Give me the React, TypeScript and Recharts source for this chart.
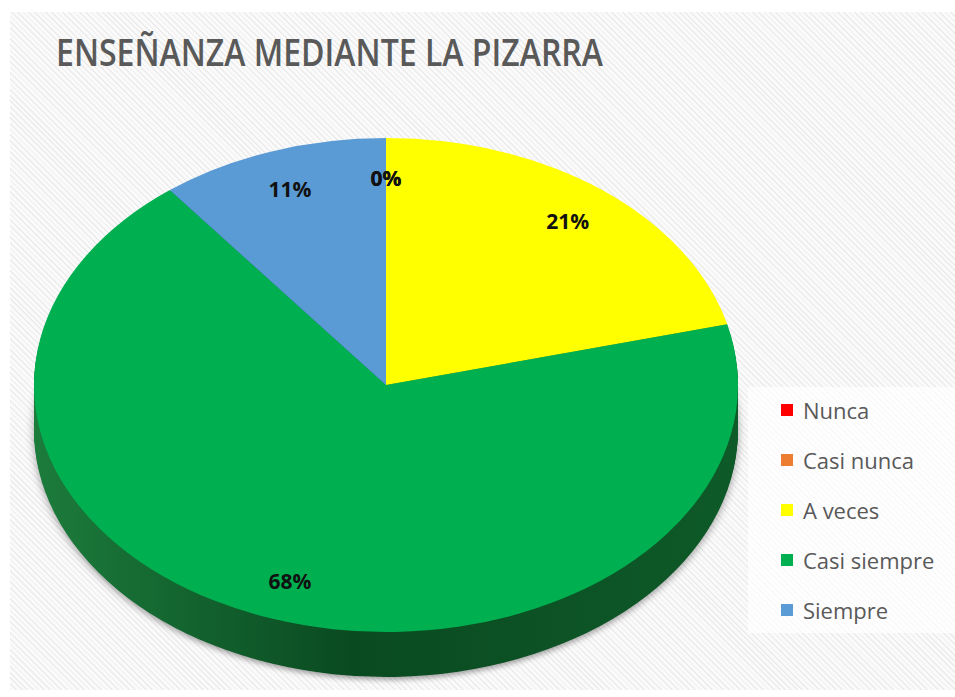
import React from 'react';
import { PieChart, Pie, Cell } from 'recharts';

const chartTitle = 'ENSEÑANZA MEDIANTE LA PIZARRA';
const categories = ['Nunca', 'Casi nunca', 'A veces', 'Casi siempre', 'Siempre'];
const responses = [0, 0, 4, 13, 2];
const topColors = ['#ff0000', '#ed7d31', '#ffff00', '#00b050', '#5b9bd5'];
const sideColors = ['#a00000', '#9c4b16', '#a9a900', 'url(#greenSide)', '#2f5f8c'];

const data = categories.map((name, i) => ({ name, value: responses[i] }));

// geometry of the tilted pie (screen px)
const CX = 386;
const CY = 385;
const RX = 352;
const RY = 247;
const TILT = RY / RX;
const DEPTH = 45;
const STEP = 1.5;
const sideOffsets: number[] = [];
for (let d = DEPTH; d > 0; d -= STEP) sideOffsets.push(d);

const FONT = '"Open Sans", "Noto Sans", sans-serif';

// labels are not inside the squashed paths, so project them by hand
const renderLabel = (props: any) => {
  const { cx, cy, midAngle, outerRadius, percent } = props;
  const rad = Math.PI / 180;
  const r = outerRadius * 0.84;
  const x = cx + r * Math.cos(-midAngle * rad);
  const y = cy + r * Math.sin(-midAngle * rad) * TILT;
  return (
    <text
      x={x}
      y={y}
      textAnchor="middle"
      dominantBaseline="central"
      fontFamily={FONT}
      fontWeight={700}
      fontSize={21}
      fill="#111"
    >
      {`${Math.round(percent * 100)}%`}
    </text>
  );
};

export default function App() {
  return (
    <div style={{ position: 'absolute', left: 0, top: 0, width: 955, height: 697, background: '#fff', overflow: 'hidden' }}>
      <style>{`
        path.pie3d, .pie3d path { transform-origin: ${CX}px ${CY}px; transform: scale(1, ${TILT}); }
        path.pie3d-base, .pie3d-base path { filter: drop-shadow(0px 4px 4px rgba(0,0,0,0.35)); }
      `}</style>
      <svg width={0} height={0} style={{ position: 'absolute' }}>
        <defs>
          <linearGradient id="greenSide" x1="0" y1="0" x2="1" y2="0">
            <stop offset="0%" stopColor="#1c7c3c" />
            <stop offset="45%" stopColor="#0a4a21" />
            <stop offset="100%" stopColor="#0e5a28" />
          </linearGradient>
        </defs>
      </svg>
      <div
        style={{
          position: 'absolute',
          left: 10,
          top: 12,
          width: 945,
          height: 678,
          background: 'repeating-linear-gradient(45deg, #ececec 0px, #ececec 1.2px, #fafafa 1.2px, #fafafa 4px)',
        }}
      />
      <div style={{ position: 'absolute', left: 0, top: 0 }}>
        <PieChart width={955} height={697} margin={{ top: 0, right: 0, bottom: 0, left: 0 }}>
          {sideOffsets.map((d, idx) => (
            <Pie
              key={`side-${d}`}
              data={data}
              dataKey="value"
              nameKey="name"
              cx={CX}
              cy={CY + d / TILT}
              outerRadius={RX}
              startAngle={90}
              endAngle={-270}
              stroke="none"
              label={false}
              labelLine={false}
              isAnimationActive={false}
              className={idx === 0 ? 'pie3d pie3d-base' : 'pie3d'}
            >
              {data.map((entry, i) => (
                <Cell key={entry.name} fill={sideColors[i]} />
              ))}
            </Pie>
          ))}
          <Pie
            data={data}
            dataKey="value"
            nameKey="name"
            cx={CX}
            cy={CY}
            outerRadius={RX}
            startAngle={90}
            endAngle={-270}
            stroke="none"
            label={renderLabel}
            labelLine={false}
            isAnimationActive={false}
            className="pie3d"
          >
            {data.map((entry, i) => (
              <Cell key={entry.name} fill={topColors[i]} />
            ))}
          </Pie>
        </PieChart>
      </div>
      <svg width={955} height={100} style={{ position: 'absolute', left: 0, top: 0 }}>
        <text
          x={56}
          y={66}
          fontFamily={FONT}
          fontWeight={600}
          fontSize={38}
          fill="#595959"
          textLength={547}
          lengthAdjust="spacingAndGlyphs"
        >
          {chartTitle}
        </text>
      </svg>
      <div
        style={{
          position: 'absolute',
          left: 748,
          top: 387,
          width: 207,
          height: 246,
          background: 'rgba(255,255,255,0.7)',
        }}
      >
        {categories.map((name, i) => (
          <div
            key={name}
            style={{
              position: 'absolute',
              left: 33,
              top: i * 50 - 2,
              height: 50,
              display: 'flex',
              alignItems: 'center',
              fontFamily: FONT,
              fontSize: 22,
              color: '#595959',
              whiteSpace: 'nowrap',
            }}
          >
            <span style={{ display: 'inline-block', width: 12, height: 12, background: topColors[i], marginRight: 10 }} />
            {name}
          </div>
        ))}
      </div>
    </div>
  );
}
